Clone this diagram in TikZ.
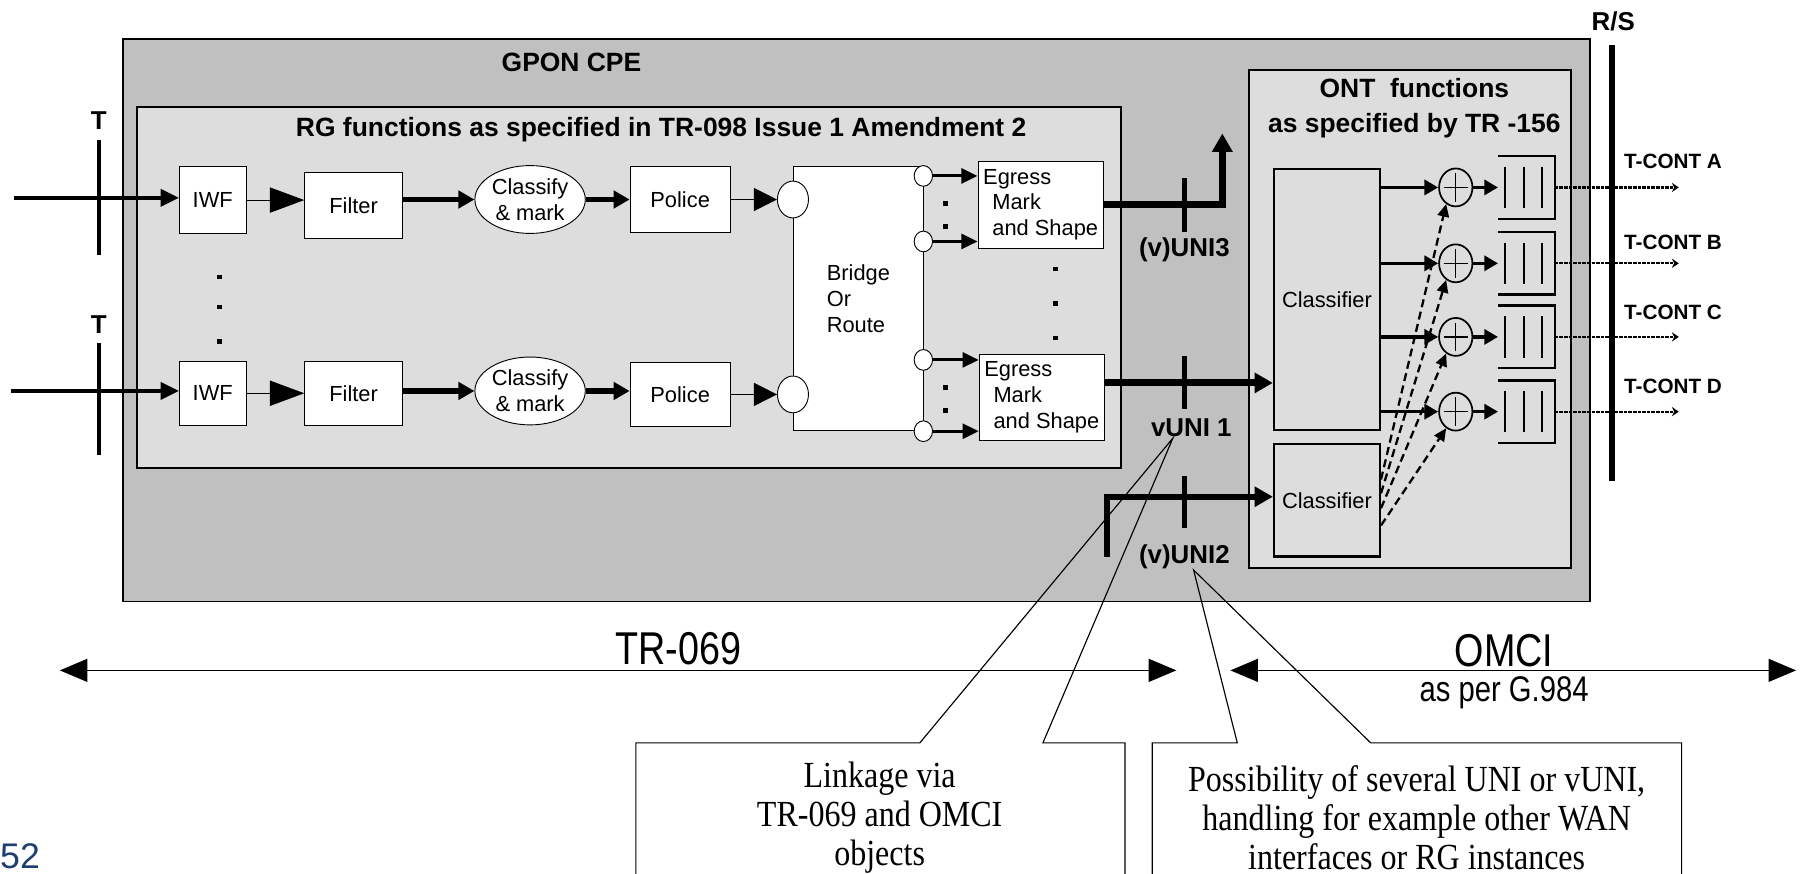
\documentclass[tikz,border=0pt]{standalone}
\usepackage{fontspec}
\setmainfont{Liberation Sans}
\newfontfamily\rgspanfont[FakeStretch=0.82]{Liberation Sans}
\newfontfamily\rgnotefont[FakeStretch=0.87]{Liberation Serif}
\usetikzlibrary{arrows.meta, positioning, shapes.geometric}
\definecolor{cpegray}{HTML}{C0C0C0}
\definecolor{fngray}{HTML}{DDDDDD}
\definecolor{pgblue}{HTML}{1F3F6E}

\begin{document}
\begin{tikzpicture}[x=1pt, y=-1pt,
    cpebox/.style={draw, line width=1.5pt, fill=cpegray, inner sep=0pt},
    rgbox/.style={draw, line width=1.5pt, fill=fngray, inner sep=0pt},
    fnbox/.style={draw, line width=0.8pt, fill=white, inner sep=0pt, font=\fontsize{19}{22.5}\selectfont},
    fnoval/.style={fnbox, ellipse, align=center},
    portc/.style={draw, ellipse, line width=0.8pt, fill=white, inner sep=0pt},
    ontcls/.style={draw, line width=2pt, fill=fngray, inner sep=0pt, minimum width=92pt, font=\fontsize{19}{22.5}\selectfont},
    adder/.style={draw, ellipse, line width=1.5pt, fill=fngray, minimum width=29pt, minimum height=33pt, inner sep=0pt,
        path picture={\draw[line width=1.2pt] ([yshift=-4pt]path picture bounding box.north) -- ([yshift=4pt]path picture bounding box.south)
            ([xshift=4pt]path picture bounding box.west) -- ([xshift=-4pt]path picture bounding box.east);}},
    fifo/.style={minimum width=49pt, minimum height=54pt, inner sep=0pt},
    cptitle/.style={font=\bfseries\fontsize{23}{30}\selectfont, inner sep=0pt},
    unilbl/.style={font=\bfseries\fontsize{22.5}{26}\selectfont, inner sep=1pt},
    tclbl/.style={font=\bfseries\fontsize{18}{22}\selectfont, inner sep=0pt},
    spanlbl/.style={font=\rgspanfont\fontsize{40}{44}\selectfont, inner sep=0pt, anchor=base},
    notetext/.style={font=\rgnotefont\fontsize{32}{34}\selectfont, align=center, inner sep=0pt},
    notebox/.style={anchor=north west, inner sep=0pt},
    refbar/.style={line width=4pt},
    unitick/.style={line width=4pt},
    inarr/.style={line width=3pt, -{Triangle[length=16pt, width=15pt]}},
    thinarr/.style={line width=1pt, -{Triangle[length=30pt, width=22pt]}},
    polarr/.style={line width=1pt, -{Triangle[length=20pt, width=20pt]}},
    fatarr/.style={line width=4.5pt, -{Triangle[length=14pt, width=15pt]}},
    portarr/.style={line width=2.5pt, -{Triangle[length=14pt, width=13pt]}},
    unarr/.style={line width=6pt, -{Triangle[length=16pt, width=17pt]}},
    sumarr/.style={line width=3pt, -{Triangle[length=12pt, width=13pt]}},
    dasharr/.style={line width=2pt, dash pattern=on 7pt off 4pt, -{Triangle[length=11pt, width=10pt]}},
    dotarr/.style={line width=2pt, dash pattern=on 3pt off 1pt, -{Stealth[length=6pt, width=8pt]}},
    spanarr/.style={line width=1pt, {Triangle[length=24pt, width=20pt]}-{Triangle[length=24pt, width=20pt]}},
    calloutln/.style={line width=1pt}]
    \useasboundingbox (0,0) rectangle (1568,760);

    % Containers
    \node (cpe) [cpebox, minimum width=1276pt, minimum height=489pt] at (745,278.5) {};
    \node (cpetitle) [cptitle] at (497,54) {GPON CPE};
    \node (rg) [rgbox, minimum width=856pt, minimum height=314pt] at (547,250) {};
    \node (rgtitle) [cptitle] at (575,113) {RG functions as specified in TR-098 Issue 1 Amendment 2};
    \node (ont) [rgbox, minimum width=280pt, minimum height=433pt] at (1226,277.5) {};
    \node (onttitle) [cptitle, align=center] at (1230,94) {ONT\ \ functions\\as specified by TR -156};

    % T reference points
    \node (tA) [unilbl] at (86,105) {T};
    \node (tB) [unilbl] at (86,282) {T};
    \draw[refbar] (86,122) -- (86,222);
    \draw[refbar] (86,298) -- (86,396);
    \coordinate (inA) at (12,172);
    \coordinate (inB) at (10,340);

    % RG functions
    \node (iwfA) [fnbox, minimum width=58pt, minimum height=58pt] at (185,174) {IWF};
    \node (filterA) [fnbox, minimum width=85pt, minimum height=57pt] at (307.5,178.5) {Filter};
    \node (classA) [fnoval, minimum width=96pt, minimum height=59pt] at (461,173.5) {Classify\\\& mark};
    \node (policeA) [fnbox, minimum width=87pt, minimum height=57pt] at (591.5,173.5) {Police};
    \node (iwfB) [fnbox, minimum width=58pt, minimum height=56pt] at (185,342) {IWF};
    \node (filterB) [fnbox, minimum width=85pt, minimum height=56pt] at (307.5,342) {Filter};
    \node (classB) [fnoval, minimum width=96pt, minimum height=59pt] at (461,340) {Classify\\\& mark};
    \node (policeB) [fnbox, minimum width=87pt, minimum height=56pt] at (591.5,343) {Police};
    \node (bridge) [fnbox, minimum width=113pt, minimum height=229pt, align=left] at (746.5,259.5) {Bridge\\Or\\Route};
    \node (portA) [portc, minimum width=27pt, minimum height=32pt] at (bridge.west |- policeA) {};
    \node (portB) [portc, minimum width=27pt, minimum height=32pt] at (bridge.west |- policeB) {};
    \foreach \n/\y in {A/153, B/210, C/313, D/375}
        \node (out\n) [portc, minimum width=16pt, minimum height=18pt] at (803,\y) {};
    \node (egressA) [fnbox, minimum width=109pt, minimum height=76pt, align=left] at (905,178) {Egress\\\hspace*{8pt}Mark\\\hspace*{8pt}and Shape};
    \node (egressB) [fnbox, minimum width=109pt, minimum height=75pt, align=left] at (906,345.5) {Egress\\\hspace*{8pt}Mark\\\hspace*{8pt}and Shape};
    \foreach \y in {239,265,295} \fill (189,\y) rectangle ++(4,4);
    \foreach \y in {175,195,335,355} \fill (820,\y) rectangle ++(4,4);
    \foreach \y in {232,262,292} \fill (916,\y) rectangle ++(4,4);

    % ONT functions
    \node (clsBig) [ontcls, minimum height=227pt] at (1154,260.5) {Classifier};
    \node (clsSmall) [ontcls, minimum height=98pt] at (1154,435) {Classifier};
    \foreach \n/\y in {A/163, B/229, C/293, D/358} {
        \node (p\n) [adder] at (1266,\y) {};
        \node (q\n) [fifo] at (1327.5,\y) {};
        \draw[line width=2pt] (q\n.north west) -- (q\n.north east) -- (q\n.south east) -- (q\n.south west);
        \foreach \dx in {-18.5,-2.5,13.5}
            \draw[line width=1.6pt] ([xshift=\dx, yshift=18pt]q\n.center) -- ([xshift=\dx, yshift=-18pt]q\n.center);
    }

    % Edges
    \draw[inarr] (inA) -- (inA -| iwfA.west);
    \draw[inarr] (inB) -- (inB -| iwfB.west);
    \foreach \r in {A,B} {
        \draw[thinarr] (iwf\r.east) -- (iwf\r.east -| filter\r.west);
        \draw[fatarr] (class\r -| filter\r.east) -- (class\r.west);
        \draw[fatarr] (class\r.east) -- (class\r.east -| police\r.west);
        \draw[polarr] (police\r.east) -- (port\r.west);
    }
    \foreach \p/\e in {A/A, B/A, C/B, D/B}
        \draw[portarr] (out\p.east) -- (out\p.east -| egress\e.west);

    % UNI and vUNI
    \coordinate (uni3up) at (1063,116);
    \draw[unarr] (egressA.east) -| (uni3up);
    \draw[unitick] (1030,155) -- (1030,202);
    \node (uni3lbl) [unilbl] at (1030,217) {(v)UNI3};
    \coordinate (uni1) at (1030,333);
    \draw[unarr] (egressB.east |- uni1) -- (uni1 -| clsBig.west);
    \draw[unitick] ([yshift=23pt]uni1) -- ([yshift=-23pt]uni1);
    \node (uni1lbl) [unilbl] at (1036,372) {vUNI 1};
    \coordinate (uni2) at (1030,432);
    \coordinate (uni2foot) at (963,484);
    \draw[unarr, line width=5pt] (uni2foot) |- (uni2) -- (uni2 -| clsSmall.west);
    \draw[unitick] ([yshift=18pt]uni2) -- ([yshift=-27pt]uni2);
    \node (uni2lbl) [unilbl] at (1030,484) {(v)UNI2};

    \foreach \n in {A,B,C,D} {
        \draw[sumarr] (p\n -| clsBig.east) -- (p\n.west);
        \draw[sumarr] (p\n.east) -- (p\n.east -| q\n.west);
    }
    \foreach \n/\s in {A/18, B/6, C/-7, D/-22}
        \draw[dasharr] ([yshift=\s]clsSmall.east) -- (p\n.240);

    % T-CONTs at R/S
    \node (rs) [unilbl] at (1403,19) {R/S};
    \draw[line width=5pt] (1402,39) -- (1402,418);
    \foreach \n/\y/\l in {A/163/140, B/229/211, C/293/272, D/358/336} {
        \coordinate (tc\n) at (1460,\y);
        \draw[dotarr] (q\n.east) -- (tc\n);
        \node (tcl\n) [tclbl] at (1455,\l) {T-CONT \n};
    }

    % Management spans
    \coordinate (trL) at (52,583);
    \coordinate (trR) at (1023,583);
    \draw[spanarr] (trL) -- (trR);
    \node (trlbl) [spanlbl] at (590,578) {TR-069};
    \coordinate (omL) at (1070,583);
    \coordinate (omR) at (1562,583);
    \draw[spanarr] (omL) -- (omR);
    \node (omlbl) [spanlbl] at (1308,580) {OMCI};
    \node (g984) [spanlbl, font=\rgspanfont\fontsize{31}{34}\selectfont] at (1308,610) {as per G.984};

    % Callouts
    \node (linkbox) [notebox, minimum width=425pt, minimum height=160pt] at (553,646) {};
    \node (linknote) [notetext] at (765,711) {Linkage via\\TR-069 and OMCI\\objects};
    \draw[calloutln] (linkbox.south west) -- (linkbox.north west) -- ([xshift=247pt]linkbox.north west)
        -- ([xshift=-16pt]uni1lbl.south) -- ([xshift=354pt]linkbox.north west) -- (linkbox.north east) -- (linkbox.south east);
    \node (wanbox) [notebox, minimum width=460pt, minimum height=160pt] at (1002,646) {};
    \node (wannote) [notetext] at (1232,711) {Possibility of several UNI or vUNI,\\handling for example other WAN\\interfaces or RG instances};
    \draw[calloutln] (wanbox.south west) -- (wanbox.north west) -- ([xshift=74pt]wanbox.north west)
        -- ([xshift=8pt]uni2lbl.south) -- ([xshift=190pt]wanbox.north west) -- (wanbox.north east) -- (wanbox.south east);

    \node (pgno) [anchor=west, inner sep=0pt, text=pgblue, font=\fontsize{31}{34}\selectfont] at (0,745) {52};
\end{tikzpicture}
\end{document}
